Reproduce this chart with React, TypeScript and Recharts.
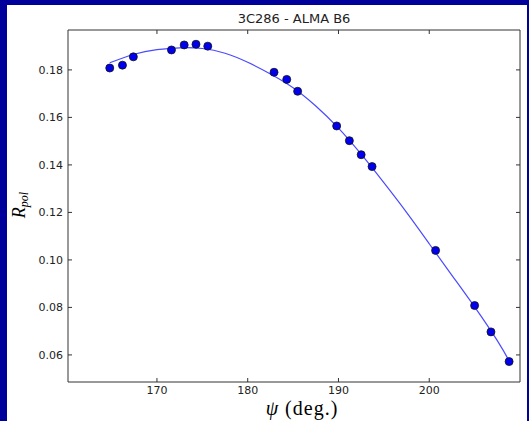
import { ComposedChart, Scatter, Line, XAxis, YAxis } from 'recharts';

// measured points (psi in deg, R_pol)
const psiObs = [164.8, 166.2, 167.4, 171.6, 173.0, 174.3, 175.6, 182.9, 184.3, 185.5, 189.8, 191.2, 192.5, 193.7, 200.7, 205.0, 206.8, 208.8];
const rpolObs = [0.1808, 0.1820, 0.1855, 0.1884, 0.1905, 0.1908, 0.1900, 0.1790, 0.1760, 0.1710, 0.1564, 0.1502, 0.1443, 0.1393, 0.1040, 0.0808, 0.0697, 0.0572];

// fitted model curve
const psiFit = [164.8, 167.5, 170, 172.5, 175, 177.5, 180, 182.5, 185, 187.5, 190, 192.5, 195, 197.5, 200, 202.5, 205, 207.5, 208.8];
const rpolFit = [0.1830, 0.1866, 0.1885, 0.1893, 0.1890, 0.1870, 0.1832, 0.1783, 0.1725, 0.1648, 0.1555, 0.1445, 0.1325, 0.1200, 0.1068, 0.0935, 0.0802, 0.0660, 0.0575];

const xTicks = [170, 180, 190, 200];
const yTicks = [0.06, 0.08, 0.10, 0.12, 0.14, 0.16, 0.18];

const points = psiObs.map((x, i) => ({ x, y: rpolObs[i] }));
const curve = psiFit.map((x, i) => ({ x, y: rpolFit[i] }));

const W = 529;
const H = 421;
const AXIS = '#333';
const X_DOM: [number, number] = [160.2, 210];
const Y_DOM: [number, number] = [0.0486, 0.1968];
const tickStyle = { fontSize: 11, fill: '#222', fontFamily: 'DejaVu Sans' };

function RLabel() {
  return (
    <text
      transform="translate(25,205) rotate(-90)"
      fontFamily="Liberation Serif"
      fontStyle="italic"
      fontSize={18}
      fill="#000"
      textAnchor="middle"
    >
      R<tspan fontSize={12} dy={3}>pol</tspan>
    </text>
  );
}

export default function App() {
  return (
    <div style={{ position: 'absolute', left: 0, top: 0, width: W, height: H, background: '#00009a' }}>
      <style>{'body{margin:0}'}</style>
      <div style={{ position: 'absolute', left: 7, top: 5, width: 520, height: 416, background: '#fff' }} />
      <div style={{ position: 'absolute', left: 0, top: 0 }}>
        <ComposedChart width={W} height={H} margin={{ top: 29, right: 8, bottom: 9, left: 18 }}>
          <text x={294} y={23} textAnchor="middle" fontFamily="DejaVu Sans" fontSize={13} fill="#222">
            3C286 - ALMA B6
          </text>
          <XAxis
            xAxisId="b"
            type="number"
            dataKey="x"
            domain={X_DOM}
            ticks={xTicks}
            allowDataOverflow
            height={30}
            stroke={AXIS}
            tickSize={-4}
            tickMargin={8}
            tick={tickStyle}
            tickLine={{ stroke: AXIS }}
          />
          <XAxis
            xAxisId="t"
            orientation="top"
            type="number"
            dataKey="x"
            domain={X_DOM}
            ticks={xTicks}
            allowDataOverflow
            height={1}
            stroke={AXIS}
            tickSize={-4}
            tickFormatter={() => ''}
          />
          <YAxis
            yAxisId="l"
            type="number"
            dataKey="y"
            domain={Y_DOM}
            ticks={yTicks}
            allowDataOverflow
            width={50}
            stroke={AXIS}
            tickSize={-4}
            tickMargin={9}
            tick={tickStyle}
            tickFormatter={(v: number) => v.toFixed(2)}
            label={{ content: RLabel }}
          />
          <YAxis
            yAxisId="r"
            orientation="right"
            type="number"
            dataKey="y"
            domain={Y_DOM}
            ticks={yTicks}
            allowDataOverflow
            width={1}
            stroke={AXIS}
            tickSize={-4}
            tickFormatter={() => ''}
          />
          <Line
            xAxisId="t"
            yAxisId="r"
            data={curve}
            dataKey="y"
            stroke="none"
            dot={false}
            activeDot={false}
            isAnimationActive={false}
          />
          <Line
            xAxisId="b"
            yAxisId="l"
            data={curve}
            dataKey="y"
            type="natural"
            stroke="#4a4aff"
            strokeWidth={1.2}
            dot={false}
            activeDot={false}
            isAnimationActive={false}
          />
          <Scatter
            xAxisId="b"
            yAxisId="l"
            data={points}
            dataKey="y"
            fill="#0000ee"
            shape={(p: any) => <circle cx={p.cx} cy={p.cy} r={4} fill="#0000ee" stroke="#111" strokeWidth={0.8} />}
            isAnimationActive={false}
          />
          <text x={302} y={415} textAnchor="middle" fontFamily="Liberation Serif" fontSize={20} fill="#000" letterSpacing={1}>
            <tspan fontStyle="italic">ψ</tspan> (deg.)
          </text>
        </ComposedChart>
      </div>
    </div>
  );
}
